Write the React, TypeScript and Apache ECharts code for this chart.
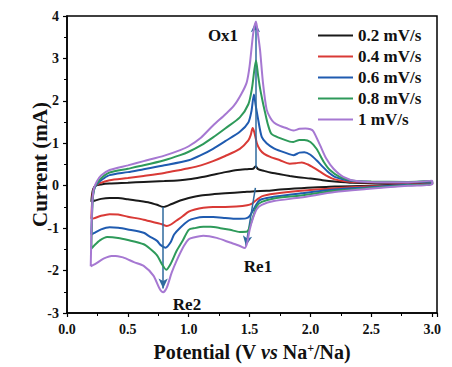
import React, { useEffect, useRef } from "react";
import * as echarts from "echarts";

const seriesNames = ["0.2 mV/s", "0.4 mV/s", "0.6 mV/s", "0.8 mV/s", "1 mV/s"];
const seriesColors = ["#1a1a1a", "#d93a36", "#1f5bb0", "#2e9a5a", "#a678d2"];

const blackAnodic = [[0.2,-0.38],[0.205,-0.22],[0.215,-0.08],[0.235,0.0],[0.28,0.03],[0.35,0.05],[0.5,0.07],[0.63,0.09],[0.8,0.11],[0.93,0.13],[1.0,0.15],[1.1,0.2],[1.2,0.26],[1.3,0.32],[1.4,0.37],[1.48,0.39],[1.53,0.4],[1.55,0.46],[1.57,0.39],[1.62,0.35],[1.67,0.31],[1.75,0.27],[1.83,0.23],[1.9,0.2],[2.0,0.17],[2.1,0.13],[2.2,0.1],[2.35,0.07],[2.6,0.06],[2.8,0.06],[3.0,0.08]];
const blackCathodic = [[3.0,0.03],[2.8,0.02],[2.5,0.0],[2.2,-0.02],[1.92,-0.06],[1.75,-0.09],[1.64,-0.12],[1.55,-0.13],[1.45,-0.15],[1.3,-0.18],[1.2,-0.2],[1.1,-0.23],[1.0,-0.29],[0.93,-0.35],[0.86,-0.43],[0.79,-0.5],[0.74,-0.45],[0.68,-0.4],[0.6,-0.36],[0.5,-0.32],[0.42,-0.29],[0.35,-0.29],[0.28,-0.31],[0.23,-0.35],[0.2,-0.38]];

const redAnodic = [[0.2,-0.78],[0.205,-0.45],[0.213,-0.15],[0.232,-0.01],[0.27,0.06],[0.35,0.13],[0.5,0.18],[0.63,0.23],[0.8,0.3],[0.93,0.37],[1.0,0.41],[1.1,0.48],[1.2,0.58],[1.3,0.7],[1.42,0.87],[1.49,1.07],[1.51,1.2],[1.525,1.36],[1.54,1.25],[1.56,1.0],[1.585,0.85],[1.62,0.75],[1.67,0.68],[1.75,0.6],[1.83,0.52],[1.88,0.53],[1.93,0.55],[1.98,0.5],[2.03,0.42],[2.08,0.33],[2.13,0.24],[2.2,0.15],[2.3,0.1],[2.45,0.08],[2.7,0.07],[3.0,0.09]];
const redCathodic = [[3.0,0.04],[2.8,0.02],[2.46,-0.02],[2.2,-0.06],[1.92,-0.12],[1.7,-0.19],[1.6,-0.25],[1.56,-0.33],[1.52,-0.42],[1.48,-0.46],[1.39,-0.49],[1.3,-0.5],[1.2,-0.5],[1.12,-0.52],[1.05,-0.56],[1.0,-0.61],[0.95,-0.72],[0.9,-0.82],[0.85,-0.92],[0.82,-0.95],[0.78,-0.91],[0.74,-0.88],[0.63,-0.8],[0.5,-0.73],[0.42,-0.68],[0.35,-0.67],[0.28,-0.71],[0.22,-0.77],[0.2,-0.78]];

const blueAnodic = [[0.2,-1.15],[0.205,-0.7],[0.212,-0.25],[0.23,-0.03],[0.26,0.08],[0.3,0.17],[0.35,0.25],[0.5,0.32],[0.63,0.39],[0.8,0.48],[1.0,0.6],[1.1,0.72],[1.2,0.87],[1.3,1.05],[1.42,1.27],[1.49,1.49],[1.515,1.75],[1.536,2.15],[1.55,1.9],[1.57,1.57],[1.6,1.15],[1.64,1.0],[1.7,0.88],[1.75,0.82],[1.82,0.75],[1.86,0.72],[1.91,0.78],[1.95,0.79],[2.0,0.73],[2.05,0.6],[2.1,0.45],[2.15,0.31],[2.2,0.21],[2.3,0.13],[2.4,0.1],[2.7,0.08],[3.0,0.1]];
const blueCathodic = [[3.0,0.04],[2.8,0.02],[2.46,-0.04],[2.2,-0.09],[1.92,-0.18],[1.7,-0.26],[1.6,-0.32],[1.57,-0.38],[1.53,-0.57],[1.5,-0.72],[1.47,-0.77],[1.39,-0.78],[1.3,-0.76],[1.2,-0.74],[1.12,-0.74],[1.05,-0.77],[1.0,-0.82],[0.93,-0.99],[0.88,-1.15],[0.85,-1.34],[0.81,-1.46],[0.77,-1.4],[0.74,-1.3],[0.68,-1.2],[0.63,-1.11],[0.5,-1.03],[0.42,-0.99],[0.35,-0.98],[0.28,-1.03],[0.22,-1.12],[0.2,-1.15]];

const greenAnodic = [[0.2,-1.48],[0.204,-0.9],[0.21,-0.35],[0.225,-0.05],[0.25,0.08],[0.29,0.2],[0.35,0.31],[0.5,0.4],[0.63,0.48],[0.8,0.6],[0.93,0.72],[1.0,0.8],[1.1,0.95],[1.2,1.14],[1.3,1.35],[1.42,1.61],[1.49,1.92],[1.52,2.3],[1.553,2.95],[1.57,2.6],[1.586,2.3],[1.61,1.95],[1.627,1.73],[1.65,1.45],[1.68,1.22],[1.75,1.12],[1.83,1.04],[1.86,1.03],[1.91,1.08],[1.95,1.08],[2.0,1.03],[2.05,0.87],[2.11,0.56],[2.16,0.37],[2.24,0.21],[2.35,0.12],[2.5,0.1],[2.8,0.09],[3.0,0.11]];
const greenCathodic = [[3.0,0.04],[2.8,0.01],[2.46,-0.06],[2.2,-0.12],[1.92,-0.23],[1.7,-0.3],[1.6,-0.38],[1.56,-0.48],[1.53,-0.72],[1.5,-0.98],[1.48,-1.08],[1.42,-1.09],[1.34,-1.04],[1.26,-1.0],[1.18,-0.97],[1.12,-0.97],[1.05,-1.0],[1.0,-1.04],[0.95,-1.3],[0.9,-1.54],[0.85,-1.85],[0.815,-1.98],[0.78,-1.85],[0.74,-1.64],[0.68,-1.48],[0.63,-1.38],[0.5,-1.28],[0.42,-1.23],[0.33,-1.21],[0.27,-1.29],[0.22,-1.42],[0.2,-1.48]];

const purpleAnodic = [[0.195,-1.9],[0.2,-1.2],[0.207,-0.45],[0.22,-0.08],[0.245,0.1],[0.28,0.24],[0.35,0.37],[0.5,0.48],[0.63,0.58],[0.8,0.71],[0.93,0.84],[1.0,0.93],[1.1,1.13],[1.2,1.42],[1.3,1.68],[1.37,1.88],[1.43,2.15],[1.476,2.43],[1.5,2.81],[1.53,3.59],[1.553,3.87],[1.57,3.55],[1.586,3.2],[1.61,2.43],[1.64,1.8],[1.67,1.6],[1.7,1.49],[1.75,1.41],[1.8,1.36],[1.86,1.3],[1.91,1.34],[1.96,1.35],[2.0,1.33],[2.025,1.28],[2.08,0.95],[2.13,0.64],[2.19,0.4],[2.27,0.21],[2.38,0.11],[2.6,0.08],[2.8,0.08],[3.0,0.12]];
const purpleCathodic = [[3.0,0.03],[2.8,0.0],[2.46,-0.08],[2.2,-0.15],[1.92,-0.28],[1.7,-0.36],[1.6,-0.45],[1.56,-0.55],[1.53,-0.75],[1.5,-1.05],[1.48,-1.35],[1.46,-1.47],[1.42,-1.42],[1.34,-1.34],[1.23,-1.23],[1.12,-1.18],[1.04,-1.22],[1.0,-1.26],[0.96,-1.42],[0.9,-1.77],[0.86,-2.05],[0.82,-2.4],[0.79,-2.51],[0.76,-2.42],[0.71,-2.12],[0.63,-1.89],[0.55,-1.8],[0.46,-1.69],[0.38,-1.65],[0.3,-1.72],[0.23,-1.85],[0.195,-1.9]];

const loops = [
  [...blackAnodic, ...blackCathodic],
  [...redAnodic, ...redCathodic],
  [...blueAnodic, ...blueCathodic],
  [...greenAnodic, ...greenCathodic],
  [...purpleAnodic, ...purpleCathodic],
];

// arrow endpoints [start, end] in data coords
const arrowOx1 = [[1.548, 0.42], [1.548, 3.85]];
const arrowRe1 = [[1.548, -0.05], [1.47, -1.42]];
const arrowRe2 = [[0.79, -0.5], [0.79, -2.42]];

const peakLabels = [
  { text: "Ox1", x: 223, y: 35 },
  { text: "Re1", x: 258, y: 266 },
  { text: "Re2", x: 187, y: 304 },
];

const FONT = "Liberation Serif";
const ARROW = "#2f6a9e";

export default function App() {
  const ref = useRef<HTMLDivElement>(null);
  useEffect(() => {
    const chart = echarts.init(ref.current!, null, { renderer: "svg" });
    const lineSeries = loops.map((d, i) => ({
      name: seriesNames[i],
      type: "line",
      data: d,
      showSymbol: false,
      smooth: 0.25,
      clip: false,
      lineStyle: { color: seriesColors[i], width: 2 },
      itemStyle: { color: seriesColors[i] },
      z: 2 + i,
    }));
    const mk = (a: number[][]) => [
      { coord: a[0], symbol: "none" },
      { coord: a[1], symbol: "arrow" },
    ];
    chart.setOption({
      animation: false,
      grid: { left: 67, right: 15, top: 16, bottom: 51, show: true, borderColor: "#000", borderWidth: 1.5 },
      legend: {
        data: seriesNames,
        orient: "vertical",
        left: 318,
        top: 27,
        padding: 0,
        itemWidth: 35,
        itemHeight: 2,
        itemGap: 4,
        icon: "rect",
        textStyle: { fontFamily: FONT, fontWeight: "bold", fontSize: 17, color: "#111", lineHeight: 17 },
      },
      xAxis: {
        type: "value",
        min: 0,
        max: 3.04,
        interval: 0.5,
        name: "Potential (V {i|vs} Na{sup|+}/Na)",
        nameLocation: "middle",
        nameGap: 29,
        nameMoveOverlap: false,
        nameTextStyle: {
          fontFamily: FONT, fontWeight: "bold", fontSize: 20, color: "#111",
          rich: {
            i: { fontFamily: FONT, fontWeight: "bold", fontStyle: "italic", fontSize: 20, color: "#111" },
            sup: { fontFamily: FONT, fontWeight: "bold", fontSize: 12, color: "#111", verticalAlign: "top", padding: [0, 0, 8, 0] },
          },
        },
        axisLine: { onZero: false, lineStyle: { color: "#000", width: 1.5 } },
        axisTick: { inside: false, length: 4, lineStyle: { color: "#000", width: 1.2 } },
        minorTick: { show: true, splitNumber: 2, length: 3, lineStyle: { color: "#000", width: 1 } },
        splitLine: { show: false },
        axisLabel: {
          margin: 9, fontFamily: FONT, fontWeight: "bold", fontSize: 14, color: "#111",
          formatter: (v: number) => (Math.abs(v / 0.5 - Math.round(v / 0.5)) < 1e-6 ? v.toFixed(1) : ""),
        },
      },
      yAxis: {
        type: "value",
        min: -3,
        max: 4,
        interval: 1,
        name: "Current (mA)",
        nameLocation: "middle",
        nameGap: 17,
        nameMoveOverlap: false,
        nameTextStyle: { fontFamily: FONT, fontWeight: "bold", fontSize: 21, color: "#111" },
        axisLine: { show: true, onZero: false, lineStyle: { color: "#000", width: 1.5 } },
        axisTick: { show: true, inside: false, length: 4, lineStyle: { color: "#000", width: 1.2 } },
        minorTick: { show: true, splitNumber: 2, length: 3, lineStyle: { color: "#000", width: 1 } },
        splitLine: { show: false },
        axisLabel: { margin: 8, fontFamily: FONT, fontWeight: "bold", fontSize: 14, color: "#111" },
      },
      series: [
        ...lineSeries,
        {
          name: "arrows",
          type: "line",
          data: [],
          z: 20,
          markLine: {
            silent: true,
            symbolSize: [7, 10],
            label: { show: false },
            lineStyle: { color: ARROW, width: 1.5, type: "solid" },
            itemStyle: { color: ARROW },
            data: [mk(arrowOx1), mk(arrowRe1), mk(arrowRe2)],
          },
        },
      ],
      graphic: peakLabels.map((p) => ({
        type: "text",
        x: p.x,
        y: p.y,
        z: 30,
        style: {
          text: p.text, fontFamily: FONT, fontWeight: "bold", fontSize: 17, fill: "#111",
          align: "center", verticalAlign: "middle",
        },
      })),
    });
    return () => chart.dispose();
  }, []);
  return <div ref={ref} style={{ width: 452, height: 367, position: "absolute", left: 0, top: 0 }} />;
}
